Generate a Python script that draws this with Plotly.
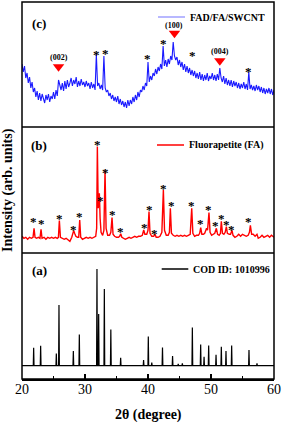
import plotly.graph_objects as go

# ---------------- data ----------------
# (a) reference stick pattern COD 1010996: peak positions (deg) and heights
cod_pos = [21.85, 22.96, 25.45, 25.87, 28.15, 29.10, 31.90, 32.17, 33.07, 34.10,
           35.66, 39.30, 40.05, 40.60, 42.30, 43.90, 44.80, 45.45, 47.04, 48.36,
           48.90, 49.63, 50.80, 51.64, 52.38, 53.28, 56.03, 57.30]
cod_int = [18.0, 20.0, 12.3, 60.7, 14.7, 31.3, 96.7, 51.7, 76.7, 36.3,
           8.0, 5.7, 29.3, 3.0, 18.3, 9.7, 1.7, 2.3, 38.3, 21.3,
           9.0, 20.3, 11.0, 19.0, 14.7, 20.3, 15.7, 2.3]

# (b) measured FA pattern (2theta, intensity)
fa_x = [20.0, 20.3, 20.6, 20.9, 21.2, 21.5, 21.75, 21.91, 22.07, 22.3, 22.6, 22.85, 23.02, 23.18,
        23.5, 23.8, 24.1, 24.4, 24.7, 25.0, 25.3, 25.6, 25.78, 25.93, 26.1, 26.4, 26.7, 27.0,
        27.3, 27.6, 27.9, 28.1, 28.2, 28.35, 28.55, 28.8, 29.0, 29.16, 29.32, 29.6, 29.9, 30.2,
        30.5, 30.8, 31.1, 31.4, 31.7, 31.85, 31.96, 32.1, 32.2, 32.28, 32.4, 32.55, 32.8, 33.0,
        33.18, 33.35, 33.6, 33.9, 34.1, 34.29, 34.45, 34.7, 35.0, 35.3, 35.5, 35.67, 35.85, 36.1,
        36.4, 36.7, 37.0, 37.3, 37.6, 37.9, 38.2, 38.5, 38.8, 39.1, 39.32, 39.5, 39.8, 40.0,
        40.16, 40.32, 40.6, 40.9, 41.11, 41.3, 41.6, 41.9, 42.2, 42.44, 42.62, 42.9, 43.2, 43.4,
        43.55, 43.72, 44.0, 44.3, 44.6, 44.9, 45.2, 45.5, 45.8, 46.1, 46.4, 46.7, 46.94, 47.12,
        47.4, 47.7, 48.0, 48.2, 48.37, 48.55, 48.8, 49.0, 49.3, 49.45, 49.68, 49.85, 50.1, 50.4,
        50.6, 50.85, 51.05, 51.3, 51.5, 51.64, 51.82, 52.05, 52.25, 52.44, 52.6, 52.9, 53.1, 53.33,
        53.5, 53.8, 54.1, 54.4, 54.7, 55.0, 55.3, 55.6, 55.9, 56.1, 56.25, 56.45, 56.7, 57.0,
        57.3, 57.5, 57.8, 58.1, 58.4, 58.7, 59.0, 59.3, 59.6, 60.0]
fa_y = [2, 0, 1, -1, 1, 0, 1, 10, 1, 0, 1, 0, 9, 0,
        1, -1, 1, 0, 1, 0, 1, 0, 1, 17.7, 1, 0, -1, 0,
        -2, -3, 1, 5, 7.7, 5, 2, 1, 1, 18.3, 1, -1, 0, 1,
        0, 1, 0, 1, 2, 10, 91.7, 30, 42, 45, 20, 6, 3, 8,
        68, 10, 3, 3, 6, 20.7, 4, 2, 1, 1, 2, 4.5, 1, 0,
        -1, 0, 1, 0, 1, 2, 1, 2, 2, 3, 8.3, 4, 4, 8,
        26.7, 5, 2, 2, 4, 1, 1, 2, 6, 48.3, 8, 3, 3, 6,
        30, 5, 3, 2, 3, 2, 3, 2, 3, 2, 3, 4, 30, 5,
        2, 3, 3, 5, 10.7, 4, 4, 5, 10, 8, 25.7, 6, 3, 4,
        5, 10, 4, 3, 5, 17, 5, 4, 6, 11.6, 5, 4, 4, 8,
        3, 1, 2, 4, 2, 4, 3, 2, 3, 6, 13, 4, 4, 2,
        4, 0, 1, 3, 1, 2, 3, 1, 3, 1]

# (c) FAD/FA/SWCNT pattern, sampled every 0.2 deg from 20 to 60
swcnt_x = [round(20 + 0.2 * i, 1) for i in range(201)]
swcnt_y = [66, 58, 64, 52, 57,
           47, 53, 42, 48, 38,
           42, 33, 39, 30, 37,
           29, 36, 31, 27, 35,
           30, 36, 28, 34, 31,
           38, 31, 40, 34, 50,
           45, 40, 47, 39, 49,
           41, 50, 43, 47, 52,
           44, 50, 46, 53, 43,
           49, 44, 51, 45, 48,
           43, 49, 44, 47, 41,
           48, 42, 46, 40, 76,
           44, 47, 41, 45, 40,
           74, 42, 38, 40, 34,
           37, 31, 35, 29, 33,
           28, 34, 26, 31, 25,
           29, 23, 28, 22, 30,
           24, 30, 26, 33, 28,
           35, 30, 38, 33, 40,
           38, 44, 40, 47, 44,
           68, 48, 54, 50, 57,
           54, 61, 56, 63, 59,
           66, 61, 84, 64, 70,
           63, 71, 66, 74, 70,
           88, 74, 70, 73, 65,
           70, 63, 68, 60, 66,
           58, 64, 57, 62, 55,
           60, 54, 59, 52, 57,
           51, 58, 50, 56, 49,
           55, 50, 57, 49, 54,
           51, 57, 50, 55, 49,
           56, 50, 62, 52, 48,
           54, 46, 52, 45, 50,
           44, 50, 43, 49, 44,
           48, 42, 47, 41, 46,
           42, 48, 41, 46, 40,
           58, 41, 45, 40, 44,
           39, 45, 40, 44, 38,
           43, 37, 42, 36, 41,
           37, 42, 36, 41, 35,
           40]

# asterisk marks
star_b_x = [21.90, 23.17, 25.98, 28.10, 29.20, 32.06, 32.49, 33.29, 34.40, 35.71, 39.37, 40.16,
            41.11, 42.44, 43.71, 46.94, 48.37, 49.68, 50.79, 51.65, 52.44, 53.33, 56.03]
star_b_y = [20, 17.6, 23.3, 12.3, 25, 97.3, 41, 69, 26.6, 10, 14, 32.3,
            8.3, 53.3, 36, 36, 17.6, 31.6, 15.6, 23.3, 17.3, 12.3, 20]
star_c_x = [31.8, 33.2, 39.9, 42.5, 47.0, 56.0]
star_c_y = [78.3, 79.3, 74.3, 90, 77.7, 61.7]

# SWCNT reflections
cnt_labels = ["(002)", "(100)", "(004)"]
cnt_x = [25.8, 44.2, 51.4]
cnt_tri_y = [63.3, 96.7, 69.3]
cnt_lab_y = [72.7, 105, 79]

legend_names = ["COD ID: 1010996", "Fluorapetite (FA)", "FAD/FA/SWCNT"]
panel_tags = ["(a)", "(b)", "(c)"]
x_ticks = [20, 30, 40, 50, 60]

# ---------------- build stick profile from the peak table ----------------
sticks = sorted(zip(cod_pos, cod_int))
a_x, a_y = [20.0], [0.0]
for p, h in sticks:
    a_x += [p - 0.06, p, p + 0.06]
    a_y += [0.0, h, 0.0]
a_x.append(60.0)
a_y.append(0.0)

fig = go.Figure()
fig.add_trace(go.Scatter(x=a_x, y=a_y, mode="lines", line=dict(color="black", width=1.2),
                         xaxis="x", yaxis="y", showlegend=False, hoverinfo="skip"))
fig.add_trace(go.Scatter(x=fa_x, y=fa_y, mode="lines", line=dict(color="#ff0000", width=1.4),
                         xaxis="x", yaxis="y2", showlegend=False, hoverinfo="skip"))
fig.add_trace(go.Scatter(x=swcnt_x, y=swcnt_y, mode="lines", line=dict(color="#1a1aff", width=1.1),
                         xaxis="x", yaxis="y3", showlegend=False, hoverinfo="skip"))
fig.add_trace(go.Scatter(x=cnt_x, y=cnt_tri_y, mode="markers",
                         marker=dict(symbol="triangle-down", size=10, color="#ff0000",
                                     line=dict(width=0)),
                         xaxis="x", yaxis="y3", showlegend=False, hoverinfo="skip"))

SERIF = "Liberation Serif, Times New Roman, serif"
ann = []
for xx, yy in zip(star_b_x, star_b_y):
    ann.append(dict(x=xx, y=yy, xref="x", yref="y2", text="<b>*</b>", showarrow=False,
                    yanchor="middle", yshift=-3, font=dict(family=SERIF, size=13, color="black")))
for xx, yy in zip(star_c_x, star_c_y):
    ann.append(dict(x=xx, y=yy, xref="x", yref="y3", text="<b>*</b>", showarrow=False,
                    yanchor="middle", yshift=-3, font=dict(family=SERIF, size=13, color="black")))
for t, xx, yy in zip(cnt_labels, cnt_x, cnt_lab_y):
    ann.append(dict(x=xx, y=yy, xref="x", yref="y3", text="<b>%s</b>" % t, showarrow=False,
                    yanchor="middle", font=dict(family=SERIF, size=8, color="black")))

# panel tags and legends
tag_y = [(270, "y"), (145, "y2"), (24, "y3")]
leg_specs = [(161.7, 188.3, 269, "black", 1.5), (157, 184, 145, "#ff0000", 1.5),
             (158, 185, 17, "#a0a0ff", 1.5)]
H = 377.0
def py2paper(py):
    return (379 - py) / H
def px2paper(px):
    return (px - 22) / 252.0

shapes = []
for i in range(3):
    ann.append(dict(x=px2paper(39), y=py2paper(tag_y[i][0]), xref="paper", yref="paper",
                    text="<b>%s</b>" % panel_tags[i], showarrow=False, xanchor="center",
                    yanchor="middle", font=dict(family=SERIF, size=13, color="black")))
    x0, x1, ly, col, w = leg_specs[i]
    shapes.append(dict(type="line", xref="paper", yref="paper", x0=px2paper(x0), x1=px2paper(x1),
                       y0=py2paper(ly), y1=py2paper(ly), line=dict(color=col, width=w)))
    ann.append(dict(x=px2paper(x1 + 3), y=py2paper(ly), xref="paper", yref="paper",
                    text="<b>%s</b>" % legend_names[i], showarrow=False, xanchor="left",
                    yanchor="middle", font=dict(family=SERIF, size=10, color="black")))

# frame and separators
shapes.append(dict(type="rect", xref="paper", yref="paper", x0=0, x1=1, y0=0, y1=1,
                   line=dict(color="black", width=1.5)))
for yy in [126 / H, 252 / H]:
    shapes.append(dict(type="line", xref="paper", yref="paper", x0=0, x1=1, y0=yy, y1=yy,
                       line=dict(color="black", width=1.5)))

ann.append(dict(x=0.5, y=py2paper(415), xref="paper", yref="paper", text="<b>2θ (degree)</b>",
                showarrow=False, yanchor="middle", font=dict(family=SERIF, size=14, color="black")))
ann.append(dict(x=px2paper(8), y=py2paper(190), xref="paper", yref="paper",
                text="<b>Intensity (arb. units)</b>", textangle=-90, showarrow=False,
                xanchor="center", yanchor="middle", font=dict(family=SERIF, size=14, color="black")))

yax = dict(showticklabels=False, ticks="", showgrid=False, zeroline=False, showline=False,
           fixedrange=True)
fig.update_layout(
    width=283, height=424, autosize=False,
    margin=dict(l=22, r=9, t=2, b=45, pad=0, autoexpand=False),
    paper_bgcolor="white", plot_bgcolor="white",
    xaxis=dict(range=[20, 60], tickvals=x_ticks, ticks="inside", ticklen=5, tickwidth=1.5,
               tickcolor="black", showgrid=False, zeroline=False, showline=True,
               linecolor="black", linewidth=1.5, automargin=False, fixedrange=True,
               ticklabelstandoff=-4,
               minor=dict(dtick=5, tick0=20, ticks="inside", ticklen=3, tickwidth=1.2,
                          tickcolor="black", showgrid=False),
               tickfont=dict(family=SERIF, size=14, color="black"), tickprefix="<b>",
               ticksuffix="</b>", anchor="y"),
    yaxis=dict(domain=[0, 126 / H], range=[-13.3, 112.7], **yax),
    yaxis2=dict(domain=[126 / H, 252 / H], range=[-14.7, 111.3], anchor="x", **yax),
    yaxis3=dict(domain=[252 / H, 1], range=[3, 128], anchor="x", **yax),
    annotations=ann, shapes=shapes, showlegend=False, hovermode=False,
)

fig.write_html("out.html", config={"responsive": False, "displayModeBar": False},
               post_script="document.body.style.margin='0';document.body.style.padding='0';"
                           "document.body.style.overflow='hidden';")
